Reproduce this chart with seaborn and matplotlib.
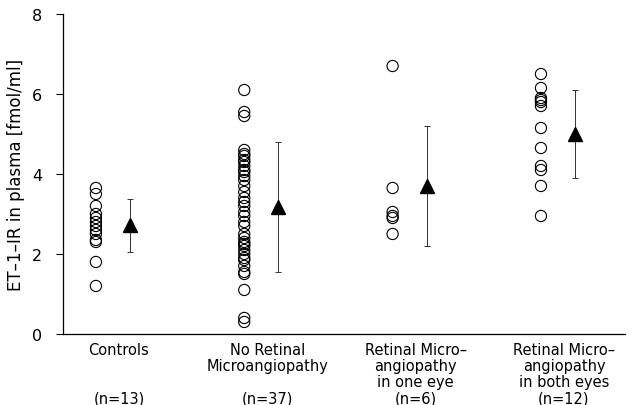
#! /usr/bin/env python3 -B

import numpy as np
import pandas as pd
import seaborn as sns
import matplotlib.pyplot as plt

groups = ["Controls\n\n\n(n=13)",
	"No Retinal\nMicroangiopathy\n\n(n=37)",
	"Retinal Micro\u2013\nangiopathy\nin one eye\n(n=6)",
	"Retinal Micro\u2013\nangiopathy\nin both eyes\n(n=12)"]

controls = [3.65, 3.5, 3.2, 3.0, 2.9, 2.8, 2.7, 2.6, 2.5, 2.35, 2.3, 1.8, 1.2]
no_retinal = [6.1, 5.55, 5.45, 4.6, 4.5, 4.45, 4.35, 4.3, 4.2, 4.1, 4.05, 3.95,
	3.85, 3.7, 3.55, 3.4, 3.3, 3.2, 3.05, 2.95, 2.8, 2.7, 2.5, 2.4, 2.3, 2.25,
	2.2, 2.1, 2.0, 1.9, 1.85, 1.7, 1.55, 1.5, 1.1, 0.4, 0.3]
one_eye = [6.7, 3.65, 3.05, 2.95, 2.9, 2.5]
both_eyes = [6.5, 6.15, 5.9, 5.85, 5.8, 5.7, 5.15, 4.65, 4.2, 4.1, 3.7, 2.95]

means = [2.72, 3.17, 3.7, 5.0]
sds = [0.66, 1.63, 1.5, 1.1]


def draw(file):
	sns.set_theme(style="ticks")
	plt.rcParams['font.family'] = ['DejaVu Sans']
	plt.rcParams['text.color'] = 'black'
	plt.rcParams['axes.labelcolor'] = 'black'
	plt.rcParams['xtick.color'] = 'black'
	plt.rcParams['ytick.color'] = 'black'
	plt.rcParams['axes.edgecolor'] = 'black'

	values = [controls, no_retinal, one_eye, both_eyes]
	df = pd.DataFrame({
		"pos": np.concatenate([[i - 0.115] * len(v) for i, v in enumerate(values)]),
		"value": np.concatenate(values),
	})

	fig = plt.figure(figsize=(6.33, 4.06), dpi=100)
	ax = fig.add_axes([0.0995, 0.175, 0.8875, 0.788])

	# individual patients
	sns.scatterplot(data=df, x="pos", y="value", marker="o", s=65,
		facecolor="none", edgecolor="black", linewidth=0.8, ax=ax)

	# mean +/- sd
	ax.errorbar(np.arange(4) + 0.115, means, yerr=sds, fmt="^", color="black",
		markersize=10.5, elinewidth=0.7, capsize=2.5, capthick=0.7, ecolor="#333333")

	ax.set_xlim(-0.337, 3.45)
	ax.set_ylim(0, 8)
	ax.set_yticks([0, 2, 4, 6, 8])
	ax.set_xticks(np.arange(4) + 0.04)
	ax.set_xticklabels(groups, fontsize=10.5, linespacing=1.08, va="top")
	ax.tick_params(axis="x", length=0, pad=6)
	ax.tick_params(axis="y", labelsize=11.5, length=5, width=0.8, pad=10)
	ax.set_xlabel("")
	ax.set_ylabel("ET\u20131\u2013IR in plasma [fmol/ml]", fontsize=12, labelpad=5)
	sns.despine(ax=ax)
	for s in ax.spines.values():
		s.set_linewidth(0.9)
	fig.savefig("out.png", dpi=100)


if __name__ == "__main__":
	draw("out.png")
